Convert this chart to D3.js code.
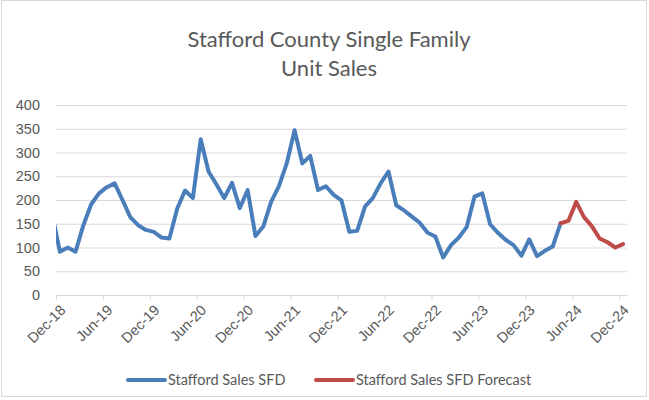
<!DOCTYPE html>
<html>
<head>
<meta charset="utf-8">
<script src="https://cdn.jsdelivr.net/npm/d3@7"></script>
<style>
body { margin: 0; background: #fff; }
svg { font-family: Lato, "Open Sans", sans-serif; }
.grid line { stroke: #d9d9d9; stroke-width: 1; }
.grid .domain { display: none; }
.xaxis .domain, .xaxis line { stroke: #d9d9d9; }
.tick text { fill: #595959; }
</style>
</head>
<body>
<svg width="649" height="400"></svg>
<script>
// tick labels on the date axis
var tickLabels = ["Dec-18", "Jun-19", "Dec-19", "Jun-20", "Dec-20", "Jun-21", "Dec-21",
	"Jun-22", "Dec-22", "Jun-23", "Dec-23", "Jun-24", "Dec-24"];
var yTicks = [0, 50, 100, 150, 200, 250, 300, 350, 400];
var seriesNames = ["Stafford Sales SFD", "Stafford Sales SFD Forecast"];

// monthly sales, Nov-18 .. Apr-24 (Nov-18 falls outside the axis and is clipped)
var salesStart = new Date(Date.UTC(2018, 10, 1));
var sales = [171, 91, 100, 91, 147, 191, 214, 227, 235, 200, 164, 147, 137,
	133, 121, 119, 182, 220, 204, 328, 260, 233, 204, 236, 183,
	221, 124, 144, 196, 229, 277, 347, 277, 293, 221, 229, 211,
	199, 133, 135, 186, 204, 235, 260, 189, 178, 165, 152, 131,
	123, 79, 105, 121, 143, 207, 214, 149, 131, 116, 105, 83,
	117, 82, 93, 102, 151];
// forecast, Apr-24 .. Dec-24
var forecastStart = new Date(Date.UTC(2024, 3, 1));
var forecast = [151, 156, 196, 164, 145, 119, 111, 100, 107];

var axisStart = new Date(Date.UTC(2018, 11, 1));
function monthIndex(d) {
	return (d.getUTCFullYear() - axisStart.getUTCFullYear()) * 12 + d.getUTCMonth() - axisStart.getUTCMonth();
}
function toPoints(start, values) {
	var dates = d3.utcMonth.range(start, d3.utcMonth.offset(start, values.length));
	return values.map(function(v, i) {
		return { m: monthIndex(dates[i]), y: v };
	});
}
var data = [toPoints(salesStart, sales), toPoints(forecastStart, forecast)];
var colors = ["#4a7ebb", "#be4b48"];

var margin = { left: 56, top: 105, right: 22, bottom: 105 };
var svg = d3.select("svg");
var width = 649 - margin.left - margin.right;
var height = 400 - margin.top - margin.bottom;

// border of the chart area
svg.append("rect").attr("x", 1.5).attr("y", 0.5).attr("width", 645).attr("height", 396)
	.attr("fill", "none").attr("stroke", "#d9d9d9");

svg.append("text").attr("x", 329).attr("y", 47).attr("text-anchor", "middle")
	.attr("fill", "#595959").style("font-size", "22px").text("Stafford County Single Family");
svg.append("text").attr("x", 329).attr("y", 76).attr("text-anchor", "middle")
	.attr("fill", "#595959").style("font-size", "22px").text("Unit Sales");

var g = svg.append("g").attr("transform", "translate(" + margin.left + "," + margin.top + ")");

// one slot per month, points sit in the middle of their month
var xScale = d3.scaleLinear().domain([0, 73]).range([0, width]);
var yScale = d3.scaleLinear().domain([0, 400]).range([height, 0]);

g.append("g").attr("class", "grid")
	.call(d3.axisLeft(yScale).tickValues(yTicks).tickSize(-width).tickFormat(""));
g.append("g").attr("class", "yaxis").call(d3.axisLeft(yScale).tickValues(yTicks).tickSize(0).tickPadding(16))
	.call(function(s) { s.select(".domain").remove(); })
	.selectAll("text").style("font-size", "14.5px");

var xAxis = g.append("g").attr("class", "xaxis").attr("transform", "translate(0," + height + ")")
	.call(d3.axisBottom(xScale).tickValues(d3.range(0, 73, 6)).tickSize(5).tickSizeOuter(0)
		.tickFormat(function(d, i) { return tickLabels[i]; }));
xAxis.selectAll("text").style("font-size", "14.5px").attr("text-anchor", "end")
	.attr("dy", null).attr("y", 0)
	.attr("transform", "translate(10,16) rotate(-45)");

g.append("clipPath").attr("id", "plotClip").append("rect")
	.attr("width", width).attr("height", height + 5).attr("y", -5);

var line = d3.line().x(function(d) {
	return xScale(d.m + 0.5);
}).y(function(d) {
	return yScale(d.y);
});
g.append("g").attr("clip-path", "url(#plotClip)").selectAll("path").data(data).enter()
	.append("path").attr("fill", "none").attr("stroke-width", 4)
	.attr("stroke-linejoin", "round").attr("stroke-linecap", "round")
	.attr("stroke", function(d, i) { return colors[i]; }).attr("d", line);

var legendX = [128, 316];
var legend = svg.append("g").selectAll("g").data(seriesNames).enter().append("g")
	.attr("transform", function(d, i) { return "translate(" + legendX[i] + ",380)"; });
legend.append("line").attr("x1", 0).attr("x2", 37).attr("stroke-width", 4)
	.attr("stroke-linecap", "round").attr("stroke", function(d, i) { return colors[i]; });
legend.append("text").attr("x", 40).attr("dy", "0.35em").attr("fill", "#595959")
	.style("font-size", "14.5px").text(function(d) { return d; });
</script>
</body>
</html>
